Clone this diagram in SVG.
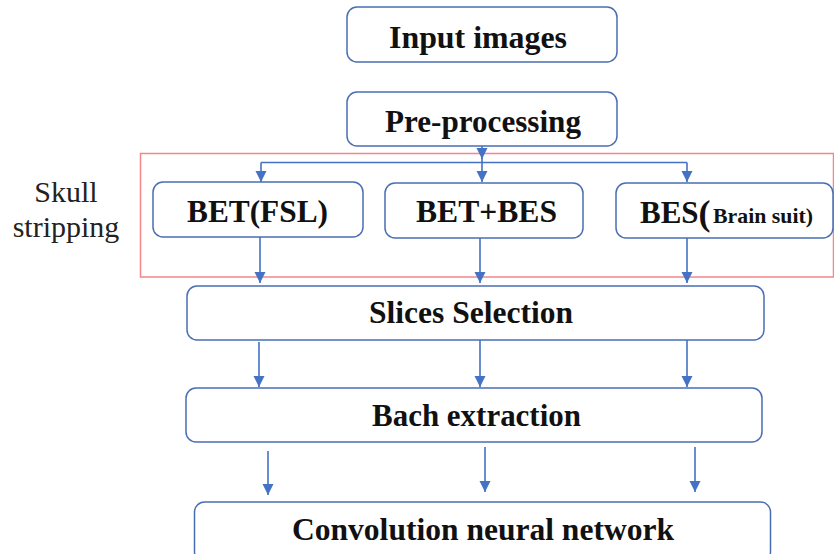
<svg xmlns="http://www.w3.org/2000/svg" width="834" height="554" viewBox="0 0 834 554">
  <defs>
    <marker id="arrow" markerUnits="userSpaceOnUse" markerWidth="12" markerHeight="12" refX="11" refY="5.5" orient="auto">
      <path d="M0,0 L11,5.5 L0,11 z" fill="#4472C4"/>
    </marker>
    <style>
      .box { fill: #ffffff; stroke: #4a6db3; stroke-width: 1.5; }
      .conn { fill: none; stroke: #4472C4; stroke-width: 1.6; }
      .arr { fill: none; stroke: #4472C4; stroke-width: 1.6; marker-end: url(#arrow); }
      .group-frame { fill: none; stroke: #f4868a; stroke-width: 1.5; }
    </style>
  </defs>

  <rect width="834" height="554" fill="#ffffff"/>

  <!-- skull stripping frame and caption -->
  <rect class="group-frame" x="140.5" y="153.5" width="693" height="123.5"/>
  <text x="66" y="202" font-family="Liberation Serif" font-size="30" fill="#222222" text-anchor="middle">Skull</text>
  <text x="66" y="237" font-family="Liberation Serif" font-size="30" fill="#222222" text-anchor="middle">stripping</text>

  <!-- nodes -->
  <g id="input-images">
    <rect class="box" x="347" y="7" width="270" height="55" rx="10"/>
    <text x="389" y="48" font-family="Liberation Serif" font-weight="bold" font-size="31" fill="#111111" textLength="178" lengthAdjust="spacingAndGlyphs">Input images</text>
  </g>
  <g id="pre-processing">
    <rect class="box" x="347" y="92" width="270" height="54" rx="10"/>
    <text x="385" y="132" font-family="Liberation Serif" font-weight="bold" font-size="31" fill="#111111" textLength="196" lengthAdjust="spacingAndGlyphs">Pre-processing</text>
  </g>
  <g id="bet-fsl">
    <rect class="box" x="153" y="182" width="210" height="55" rx="10"/>
    <text x="187" y="222" font-family="Liberation Serif" font-weight="bold" font-size="31" fill="#111111" textLength="141" lengthAdjust="spacingAndGlyphs">BET(FSL)</text>
  </g>
  <g id="bet-bes">
    <rect class="box" x="385" y="183" width="198" height="55" rx="10"/>
    <text x="416" y="222" font-family="Liberation Serif" font-weight="bold" font-size="31" fill="#111111" textLength="141" lengthAdjust="spacingAndGlyphs">BET+BES</text>
  </g>
  <g id="bes-brainsuit">
    <rect class="box" x="616" y="183" width="217" height="55" rx="10"/>
    <text x="640" y="223" font-family="Liberation Serif" font-weight="bold" font-size="31" fill="#111111">BES<tspan font-size="36" dy="2">(</tspan><tspan x="713" dy="-2" font-size="22" textLength="100" lengthAdjust="spacingAndGlyphs">Brain suit)</tspan></text>
  </g>
  <g id="slices-selection">
    <rect class="box" x="187" y="286" width="577" height="54" rx="10"/>
    <text x="369" y="323" font-family="Liberation Serif" font-weight="bold" font-size="31" fill="#111111" textLength="204" lengthAdjust="spacingAndGlyphs">Slices Selection</text>
  </g>
  <g id="bach-extraction">
    <rect class="box" x="186" y="388" width="576" height="54" rx="10"/>
    <text x="372" y="426" font-family="Liberation Serif" font-weight="bold" font-size="31" fill="#111111" textLength="209" lengthAdjust="spacingAndGlyphs">Bach extraction</text>
  </g>
  <g id="cnn">
    <rect class="box" x="194.5" y="502" width="576" height="60" rx="10"/>
    <text x="292" y="540" font-family="Liberation Serif" font-weight="bold" font-size="31" fill="#111111" textLength="382" lengthAdjust="spacingAndGlyphs">Convolution neural network</text>
  </g>

  <!-- connectors -->
  <g id="connectors">
    <path class="arr" d="M482,146 V159"/>
    <path class="conn" d="M482,158 V162.5 M261,162.5 H687"/>
    <path class="arr" d="M261,162.5 V182"/>
    <path class="arr" d="M482,162.5 V182"/>
    <path class="arr" d="M687,162.5 V182"/>

    <path class="arr" d="M260,237 V283"/>
    <path class="arr" d="M480,238 V283"/>
    <path class="arr" d="M687,238 V283"/>

    <path class="arr" d="M259,342 V387"/>
    <path class="arr" d="M480,340 V387"/>
    <path class="arr" d="M687,340 V387"/>

    <path class="arr" d="M268,451 V495"/>
    <path class="arr" d="M485,447 V492"/>
    <path class="arr" d="M695,447 V492"/>
  </g>
</svg>
